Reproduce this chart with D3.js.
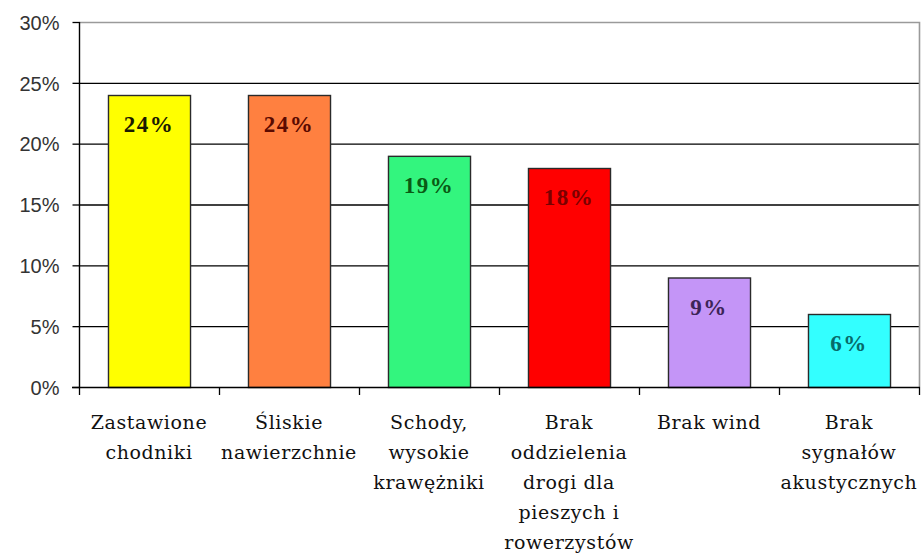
<!DOCTYPE html>
<html>
<head>
<meta charset="utf-8">
<script src="https://cdn.jsdelivr.net/npm/d3@7"></script>
<style>
  html, body { margin: 0; padding: 0; background: #fff; }
  svg { display: block; }
</style>
</head>
<body>
<svg id="chart" width="924" height="557"></svg>
<script>
// Przeszkody w przestrzeni miejskiej – odsetek wskazań
const categories = [
  ["Zastawione", "chodniki"],
  ["Śliskie", "nawierzchnie"],
  ["Schody,", "wysokie", "krawężniki"],
  ["Brak", "oddzielenia", "drogi dla", "pieszych i", "rowerzystów"],
  ["Brak wind"],
  ["Brak", "sygnałów", "akustycznych"]
];
const values = [24, 24, 19, 18, 9, 6];
const barColors = ["#ffff00", "#ff8040", "#33f57e", "#ff0000", "#c495f7", "#33ffff"];
const labelColors = ["#1a1a00", "#5a0a00", "#0a5a14", "#7a0000", "#3c2458", "#066a6a"];
const yTicks = [0, 5, 10, 15, 20, 25, 30];

const svg = d3.select("#chart");
const plotLeft = 79, plotRight = 919, plotTop = 22, plotBottom = 387;

const x = d3.scaleBand()
  .domain(d3.range(categories.length))
  .range([plotLeft, plotRight])
  .paddingInner(0.414)
  .paddingOuter(0.207);

const y = d3.scaleLinear().domain([0, 30]).range([plotBottom, plotTop]);

// horizontal gridlines (black)
svg.append("g")
  .selectAll("line")
  .data(yTicks.filter(t => t > 0 && t < 30))
  .join("line")
  .attr("x1", plotLeft).attr("x2", plotRight)
  .attr("y1", d => y(d) + 0.5).attr("y2", d => y(d) + 0.5)
  .attr("stroke", "#000").attr("stroke-width", 1.3);

// gray frame on top and right
svg.append("path")
  .attr("d", `M${plotLeft},${y(30) + 0.5}H${plotRight + 0.5}V${plotBottom}`)
  .attr("fill", "none").attr("stroke", "#9a9a9a").attr("stroke-width", 1.6);

// bars
svg.append("g")
  .selectAll("rect")
  .data(values)
  .join("rect")
  .attr("x", (d, i) => x(i) + 0.5)
  .attr("y", d => y(d) + 0.5)
  .attr("width", x.bandwidth())
  .attr("height", d => plotBottom - y(d))
  .attr("fill", (d, i) => barColors[i])
  .attr("stroke", "#2a2a2a").attr("stroke-width", 1.4);

// value labels inside bars
svg.append("g")
  .selectAll("text")
  .data(values)
  .join("text")
  .attr("x", (d, i) => x(i) + x.bandwidth() / 2)
  .attr("y", d => y(d) + 37)
  .attr("text-anchor", "middle")
  .attr("font-family", "'Liberation Serif', 'Times New Roman', serif")
  .attr("font-weight", "bold")
  .attr("font-size", 23)
  .attr("letter-spacing", 1.5)
  .attr("fill", (d, i) => labelColors[i])
  .text(d => d + "%");

// y axis
const yAxis = d3.axisLeft(y)
  .tickValues(yTicks)
  .tickFormat(d => d + "%")
  .tickSize(7)
  .tickPadding(13);
const gy = svg.append("g")
  .attr("transform", `translate(${plotLeft + 0.5},0)`)
  .call(yAxis);
gy.select(".domain").attr("stroke", "#000").attr("stroke-width", 1.4).attr("d", `M0,${plotTop}V${plotBottom}`);
gy.selectAll(".tick line").attr("stroke", "#000").attr("stroke-width", 1.3);
gy.selectAll(".tick text")
  .attr("font-family", "Arial, 'Liberation Sans', sans-serif")
  .attr("font-size", 20)
  .attr("fill", "#333")
  .attr("dy", "0.36em");

// x axis: ticks at category boundaries
const gx = svg.append("g");
gx.append("line")
  .attr("x1", plotLeft - 7).attr("x2", plotRight + 1)
  .attr("y1", plotBottom + 0.5).attr("y2", plotBottom + 0.5)
  .attr("stroke", "#000").attr("stroke-width", 1.4);
gx.selectAll("line.tick")
  .data(d3.range(categories.length + 1))
  .join("line")
  .attr("class", "tick")
  .attr("x1", i => plotLeft + i * x.step() + 0.5)
  .attr("x2", i => plotLeft + i * x.step() + 0.5)
  .attr("y1", plotBottom).attr("y2", plotBottom + 8)
  .attr("stroke", "#000").attr("stroke-width", 1.3);

// category labels
const labels = svg.append("g")
  .selectAll("text")
  .data(categories)
  .join("text")
  .attr("text-anchor", "middle")
  .attr("font-family", "'DejaVu Serif', serif")
  .attr("font-size", 19)
  .attr("letter-spacing", 0.6)
  .attr("fill", "#111")
  .attr("transform", (d, i) => `translate(${x(i) + x.bandwidth() / 2},${429})`);
labels.selectAll("tspan")
  .data(d => d)
  .join("tspan")
  .attr("x", 0)
  .attr("dy", (d, j) => j === 0 ? 0 : 30)
  .text(d => d);
</script>
</body>
</html>
